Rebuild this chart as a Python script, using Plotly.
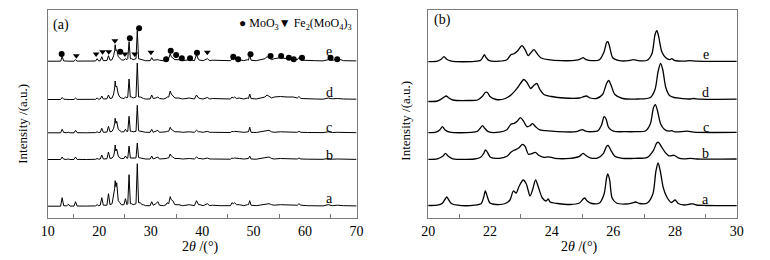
import plotly.graph_objects as go

# ---------------- DATA ----------------
# Panel (a): 2theta grid shared by all five patterns
TWO_THETA_A = [10, 12.5, 12.8, 13.1, 13.7, 14.0, 14.3, 15.1, 15.4, 15.7,
               17.5, 19.3, 19.6, 19.9, 20.2, 20.5, 20.8, 21.5, 21.8, 22.1,
               22.5, 22.8, 23.0, 23.1, 23.25, 23.4, 23.7, 24.0, 24.3, 24.8,
               25.1, 25.4, 25.55, 25.8, 26.05, 26.3, 26.6, 27.15, 27.4, 27.65,
               28.0, 28.3, 28.6, 29.0, 29.9, 30.2, 30.5, 31.0, 31.4, 31.7,
               32.5, 33.0, 33.2, 33.5, 33.8, 34.0, 34.3, 34.7, 35.5, 36.2,
               37.5, 38.5, 38.9, 39.3, 39.6, 40.2, 41.0, 41.5, 42.0, 43.5,
               45.5, 45.8, 46.05, 46.3, 46.7, 47.2, 48.1, 48.8, 49.0, 49.25,
               49.5, 50.5, 52.2, 52.6, 53.0, 53.5, 54.0, 55.2, 56.5, 57.7,
               58.5, 58.8, 59.2, 60.5, 62.0, 63.5, 64.5, 65.3, 66.3, 67.5,
               70]

INT_A_a = [0.5, 0.5, 9, 1, 0.8, 2.5, 0.6, 0.6, 5, 0.7,
           0.6, 0.8, 2, 1, 1.5, 9, 1.5, 1.5, 13, 2,
           3, 10, 18, 26, 20, 24, 6, 4, 2, 2,
           8, 2, 3, 32, 3, 3, 2, 3, 43, 4,
           4, 2, 2, 1, 1, 5, 1.5, 3, 5, 1.5,
           1, 2, 4, 3, 10, 7, 6, 2, 2, 1,
           2, 1, 6, 2, 2, 1, 3, 1, 1.5, 1,
           1, 4, 3, 4, 2, 2, 1, 2, 2, 6,
           1.5, 1, 2.5, 3, 3, 2, 1.5, 2, 2, 2,
           1.5, 3, 1.5, 1, 1, 0.8, 2, 1, 1.5, 1,
           0.8]
INT_A_b = [0.5, 0.5, 3, 0.8, 0.6, 1, 0.5, 0.5, 3, 0.6,
           0.5, 0.7, 1.5, 0.8, 1, 5, 1, 1.2, 8, 1.5,
           2, 4, 9, 15, 9, 11, 4, 2, 1.5, 1.5,
           4, 1.5, 2, 14, 2, 2, 1.5, 2, 17, 2.5,
           2, 1.5, 1.5, 1, 1, 4, 1, 2, 3, 1,
           1, 1.5, 2, 2, 6, 4, 3, 1.5, 1.5, 1,
           1.5, 1, 3, 1.5, 1.5, 1, 2, 1, 1, 0.8,
           0.8, 2, 1.5, 2, 1.5, 1.5, 1, 1.5, 1.5, 4,
           1, 0.8, 2, 3, 3, 1.5, 1, 1.5, 1.5, 1.5,
           1, 2, 1, 0.8, 0.8, 0.7, 1.5, 0.8, 1, 0.8,
           0.6]
INT_A_c = [0.5, 0.5, 4, 0.8, 0.6, 1, 0.5, 0.5, 3, 0.6,
           0.5, 0.7, 1.5, 0.8, 1, 5, 1, 1.2, 7, 1.5,
           2, 5, 10, 15, 10, 12, 4, 2.5, 1.5, 1.5,
           4, 1.5, 2, 17, 2, 2, 1.5, 2, 28, 2.5,
           2, 1.5, 1.5, 1, 1, 4, 1, 2, 3, 1,
           1, 1.5, 2, 2, 6, 4, 3, 1.5, 1.5, 1,
           1.5, 1, 3, 1.5, 1.5, 1, 2, 1, 1, 0.8,
           0.8, 2, 1.5, 2, 1.5, 1.5, 1, 1.5, 1.5, 6,
           1, 0.8, 2, 3, 3, 1.5, 1, 1.5, 1.5, 1.5,
           1, 2, 1, 0.8, 0.8, 0.7, 1.5, 0.8, 1, 0.8,
           0.6]
INT_A_d = [0.5, 0.5, 2.5, 0.8, 0.6, 0.8, 0.5, 0.5, 2, 0.6,
           0.5, 0.7, 2, 0.8, 1, 4, 1, 1.2, 5, 1.5,
           2, 6, 12, 19, 13, 14, 6, 3, 2, 1.5,
           3, 2, 3, 21, 3, 3, 2, 3, 37, 3,
           3, 2, 1.5, 1, 1, 5, 1.5, 2, 3, 1.5,
           1, 2, 3, 3, 9, 6, 4, 2, 2, 1,
           2, 1, 5, 2, 1.5, 1, 2.5, 1, 1.5, 1,
           1, 3, 2, 3, 1.5, 2, 1, 2, 1.5, 6,
           1.5, 1, 3, 5, 4, 2, 3, 3.5, 3, 3,
           2, 3.5, 1.5, 1, 1, 0.8, 2, 1.2, 1.5, 1,
           0.8]
INT_A_e = [0.5, 0.5, 5, 0.8, 0.6, 0.8, 0.5, 0.5, 2, 0.6,
           0.5, 0.7, 3, 0.8, 1, 5, 1, 1.2, 6, 1.5,
           2, 6, 11, 17, 11, 12, 5, 3, 2, 1.5,
           3, 2, 3, 20, 3, 3, 2, 3, 31, 3,
           2.5, 2, 1.5, 1, 1, 4, 1.5, 2, 2, 1.5,
           1, 2, 3, 3, 8, 5, 4, 2, 2, 1,
           2, 1, 7, 2, 1.5, 1, 3, 1, 1.5, 1,
           1, 3, 2, 3, 1.5, 2, 1, 2, 1.5, 7,
           1.5, 1, 3, 5, 4, 2, 3, 4, 3, 3,
           2, 4, 1.5, 1, 1, 0.8, 2, 1.2, 3, 1,
           0.8]

# Phase markers on pattern e (2theta, height above e baseline)
MOO3_2THETA = [12.7, 24.1, 25.95, 27.75, 33.0, 33.9, 34.95, 36.05, 37.65, 39.0,
               46.05, 47.0, 49.4, 53.3, 55.35, 56.85, 57.8, 59.4, 64.95, 66.25]
MOO3_HEIGHT = [7.7, 10, 23.4, 33.4, 2.4, 11, 6.7, 3.4, 3.4, 9,
               5, 2.4, 7.4, 5.7, 5.7, 4, 2.4, 4, 4, 2.4]
FEMO_2THETA = [15.55, 19.4, 20.65, 21.85, 23.05, 25.0, 26.9, 30.05, 41.0]
FEMO_HEIGHT = [5, 6.7, 9, 9, 20, 6.7, 6.7, 8.4, 8.4]

# Panel (b): (2theta, intensity) points
PTS_B_a = [(20.0, 0.5), (20.3, 0.8), (20.45, 2.5), (20.55, 7), (20.6, 9), (20.65, 7), (20.75, 2.5),
           (20.95, 0.8), (21.5, 0.8), (21.72, 2.5), (21.8, 9), (21.85, 15), (21.92, 9), (22.0, 3),
           (22.2, 1.5), (22.5, 2.5), (22.65, 6), (22.76, 15), (22.85, 13), (22.95, 20), (23.08, 26),
           (23.18, 22), (23.3, 10), (23.38, 16), (23.48, 26), (23.58, 18), (23.7, 8), (23.82, 5),
           (23.89, 7), (23.95, 4), (24.2, 2.5), (24.6, 1.5), (24.9, 3), (25.02, 7), (25.07, 8),
           (25.15, 5), (25.3, 2.5), (25.55, 3), (25.7, 12), (25.78, 28), (25.82, 32), (25.88, 26),
           (25.96, 8), (26.1, 3), (26.4, 2), (26.6, 3), (26.72, 4), (26.85, 2.5), (27.1, 3),
           (27.28, 12), (27.38, 35), (27.45, 43), (27.52, 35), (27.62, 18), (27.75, 8), (27.88, 3.5),
           (28.0, 6), (28.1, 2.5), (28.3, 1), (28.5, 2), (28.58, 2.2), (28.7, 1), (29.0, 0.5), (30.0, 0.3)]
PTS_B_b = [(20.0, 0), (20.3, 0.5), (20.47, 3), (20.56, 6), (20.65, 3), (20.8, 0.5), (21.5, 0.3),
           (21.7, 2), (21.8, 6), (21.86, 9.5), (21.92, 7), (22.02, 2), (22.3, 1), (22.55, 3),
           (22.68, 7), (22.78, 9), (22.92, 11), (23.06, 15), (23.14, 13), (23.25, 5), (23.35, 5.5),
           (23.47, 7), (23.58, 4), (23.75, 2), (23.9, 2.5), (24.1, 1), (24.6, 1), (24.9, 3),
           (25.02, 6), (25.1, 4), (25.25, 1.5), (25.5, 1.5), (25.68, 6), (25.78, 13), (25.83, 14),
           (25.92, 9), (26.05, 3), (26.3, 1), (26.7, 1), (27.1, 2), (27.3, 9), (27.4, 16), (27.46, 17),
           (27.55, 13), (27.68, 7), (27.8, 3.5), (27.97, 4), (28.1, 1.5), (28.3, 0.5), (28.5, 1),
           (28.7, 0.3), (30.0, 0.3)]
PTS_B_c = [(20.0, 0), (20.25, 0.5), (20.38, 3), (20.46, 6), (20.54, 3), (20.7, 0.5), (21.4, 0.3),
           (21.6, 1.5), (21.7, 5), (21.76, 7), (21.83, 4.5), (21.95, 1), (22.3, 0.5), (22.55, 3),
           (22.68, 8.5), (22.8, 9.5), (22.9, 12), (22.99, 15), (23.08, 12), (23.2, 6), (23.3, 7),
           (23.38, 9), (23.48, 6), (23.6, 3), (23.8, 2), (24.2, 1), (24.8, 1), (24.93, 2.5), (25.0, 3),
           (25.1, 1.5), (25.3, 1), (25.5, 2), (25.62, 8), (25.7, 16), (25.76, 14), (25.85, 5),
           (26.0, 1.5), (26.4, 1), (26.7, 1), (27.05, 2), (27.2, 9), (27.3, 25), (27.36, 28),
           (27.43, 22), (27.53, 9), (27.65, 3.5), (27.8, 1.5), (27.89, 2), (28.0, 0.8), (28.4, 1.5),
           (28.6, 0.5), (30.0, 0.3)]
PTS_B_d = [(20.0, -2), (20.3, -1.5), (20.45, 1), (20.58, 3.5), (20.65, 2), (20.8, -0.5), (21.3, -1),
           (21.6, -0.5), (21.75, 3), (21.85, 7), (21.92, 7), (22.0, 3), (22.2, 0), (22.5, 1),
           (22.7, 5), (22.9, 12), (23.1, 20), (23.2, 17), (23.32, 11), (23.42, 14), (23.52, 16),
           (23.62, 10), (23.75, 5), (24.0, 3), (24.4, 1.5), (24.9, 1.5), (25.05, 3), (25.13, 3.5),
           (25.25, 1.5), (25.45, 1), (25.65, 5), (25.78, 16), (25.85, 19), (25.93, 14), (26.05, 5),
           (26.3, 1), (26.8, 0.5), (27.2, 2), (27.35, 10), (27.45, 28), (27.53, 36), (27.6, 30),
           (27.7, 12), (27.82, 4), (27.97, 2), (28.1, 1.5), (28.5, 0.5), (28.6, 1.0), (28.8, 0.3),
           (30.0, 0.3)]
PTS_B_e = [(20.0, 0), (20.3, 0.5), (20.42, 2.5), (20.51, 5), (20.6, 2.5), (20.75, 0.5), (21.5, 0.3),
           (21.7, 1.5), (21.78, 5), (21.82, 7), (21.88, 4), (21.98, 1), (22.3, 0.5), (22.55, 2),
           (22.68, 7), (22.78, 8), (22.9, 11), (23.04, 16), (23.14, 12), (23.24, 6), (23.3, 8),
           (23.43, 12), (23.53, 8), (23.65, 4), (23.9, 2), (24.3, 1), (24.8, 1.5), (24.95, 3),
           (25.02, 4), (25.12, 2), (25.3, 1), (25.55, 2), (25.7, 10), (25.78, 19), (25.82, 20),
           (25.88, 15), (25.98, 4), (26.2, 1), (26.5, 1), (26.66, 2), (26.8, 1), (27.1, 1.5),
           (27.25, 8), (27.35, 27), (27.41, 31), (27.47, 25), (27.57, 10), (27.7, 4), (27.82, 2),
           (27.89, 3), (28.0, 1), (28.3, 0.5), (28.47, 1), (28.7, 0.5), (30.0, 0.3)]

SAMPLE_LABELS = ['a', 'b', 'c', 'd', 'e']
X_TICKS_A = [10, 20, 30, 40, 50, 60, 70]
X_TICKS_B = [20, 22, 24, 26, 28, 30]

# ---------------- LAYOUT CONSTANTS (positions/styles) ----------------
W, H = 770, 260
OFF_A = {'a': 11.3, 'b': 58.0, 'c': 84.7, 'd': 118.0, 'e': 156.3}
OFF_B = {'a': 12.0, 'b': 58.7, 'c': 85.3, 'd': 118.5, 'e': 156.3}
LAB_Y_A = {'a': 20, 'b': 63, 'c': 91, 'd': 126, 'e': 166}
LAB_Y_B = {'a': 19, 'b': 65, 'c': 91, 'd': 126, 'e': 163}
SERIF = 'Liberation Serif'
FRAME = '#7a7a7a'

INT_A = {'a': INT_A_a, 'b': INT_A_b, 'c': INT_A_c, 'd': INT_A_d, 'e': INT_A_e}
PTS_B = {'a': PTS_B_a, 'b': PTS_B_b, 'c': PTS_B_c, 'd': PTS_B_d, 'e': PTS_B_e}

fig = go.Figure()
for k in SAMPLE_LABELS:
    fig.add_trace(go.Scatter(x=TWO_THETA_A, y=[v + OFF_A[k] for v in INT_A[k]],
                             mode='lines', line=dict(color='black', width=1),
                             xaxis='x', yaxis='y', showlegend=False, hoverinfo='skip'))
for k in SAMPLE_LABELS:
    xs = [p[0] for p in PTS_B[k]]
    ys = [p[1] + OFF_B[k] for p in PTS_B[k]]
    fig.add_trace(go.Scatter(x=xs, y=ys, mode='lines',
                             line=dict(color='black', width=1.3, shape='spline', smoothing=0.8),
                             xaxis='x2', yaxis='y2', showlegend=False, hoverinfo='skip'))

fig.add_trace(go.Scatter(x=MOO3_2THETA, y=[h + OFF_A['e'] for h in MOO3_HEIGHT], mode='markers',
                         marker=dict(symbol='circle', size=6, color='black'),
                         xaxis='x', yaxis='y', showlegend=False, hoverinfo='skip'))
fig.add_trace(go.Scatter(x=FEMO_2THETA, y=[h + OFF_A['e'] + 1 for h in FEMO_HEIGHT], mode='markers',
                         marker=dict(symbol='triangle-down', size=6, color='black'),
                         xaxis='x', yaxis='y', showlegend=False, hoverinfo='skip'))

ydom = [1 - 218 / H, 1 - 9.5 / H]
common_x = dict(showline=True, mirror=True, linecolor=FRAME, linewidth=1, showgrid=False,
                zeroline=False, ticks='', tickfont=dict(family=SERIF, size=14, color='black'))
common_y = dict(showline=True, mirror=True, linecolor=FRAME, linewidth=1, showgrid=False,
                zeroline=False, ticks='', showticklabels=False, range=[0, 208.5], domain=ydom)

fig.update_layout(
    width=W, height=H, margin=dict(l=0, r=0, t=0, b=0),
    paper_bgcolor='white', plot_bgcolor='white',
    xaxis=dict(domain=[41.5 / W, 356 / W], range=[10, 70], tickvals=X_TICKS_A,
               minor=dict(tickvals=[15, 25, 35, 45, 55, 65], ticks='inside', ticklen=4,
                          tickcolor=FRAME, tickwidth=1), anchor='y', **common_x),
    yaxis=dict(anchor='x', **common_y),
    xaxis2=dict(domain=[429 / W, 743.3 / W], range=[20, 30], tickvals=X_TICKS_B,
                minor=dict(tickvals=[21, 23, 25, 27, 29], ticks='inside', ticklen=4,
                           tickcolor=FRAME, tickwidth=1), anchor='y2', **common_x),
    yaxis2=dict(anchor='x2', **common_y),
)

ann = []
for k in SAMPLE_LABELS:
    ann.append(dict(x=64.7, y=LAB_Y_A[k], xref='x', yref='y', text=k, showarrow=False,
                    font=dict(family=SERIF, size=14, color='black')))
    ann.append(dict(x=29.0, y=LAB_Y_B[k], xref='x2', yref='y2', text=k, showarrow=False,
                    font=dict(family=SERIF, size=14, color='black')))
ann.append(dict(x=12.6, y=193, xref='x', yref='y', text='(a)', showarrow=False,
                font=dict(family=SERIF, size=14, color='black')))
ann.append(dict(x=20.45, y=198, xref='x2', yref='y2', text='(b)', showarrow=False,
                font=dict(family=SERIF, size=14, color='black')))
ann.append(dict(x=46.8, y=194, xref='x', yref='y', xanchor='left', yanchor='middle',
                text='\u25CF MoO<sub>3</sub>\u25BC Fe<sub>2</sub>(MoO<sub>4</sub>)<sub>3</sub>',
                showarrow=False, font=dict(family=SERIF, size=12, color='black')))
for cx in (197.5 / W, 582.7 / W):
    ann.append(dict(x=cx, y=1 - 247 / H, xref='paper', yref='paper', xanchor='center',
                    yanchor='middle', text='2<i>\u03B8</i> /(\u00B0)', showarrow=False,
                    font=dict(family=SERIF, size=14, color='black')))
for cx, cy in ((15 / W, 1 - 124 / H), (405 / W, 1 - 121 / H)):
    ann.append(dict(x=cx, y=cy, xref='paper', yref='paper', xanchor='center', yanchor='middle',
                    text='Intensity /(a.u.)', textangle=-90, showarrow=False,
                    font=dict(family=SERIF, size=13, color='black')))
fig.update_layout(annotations=ann)

fig.write_html('out.html', config={'displayModeBar': False},
               post_script="document.body.style.margin='0';document.body.style.overflow='hidden';")
